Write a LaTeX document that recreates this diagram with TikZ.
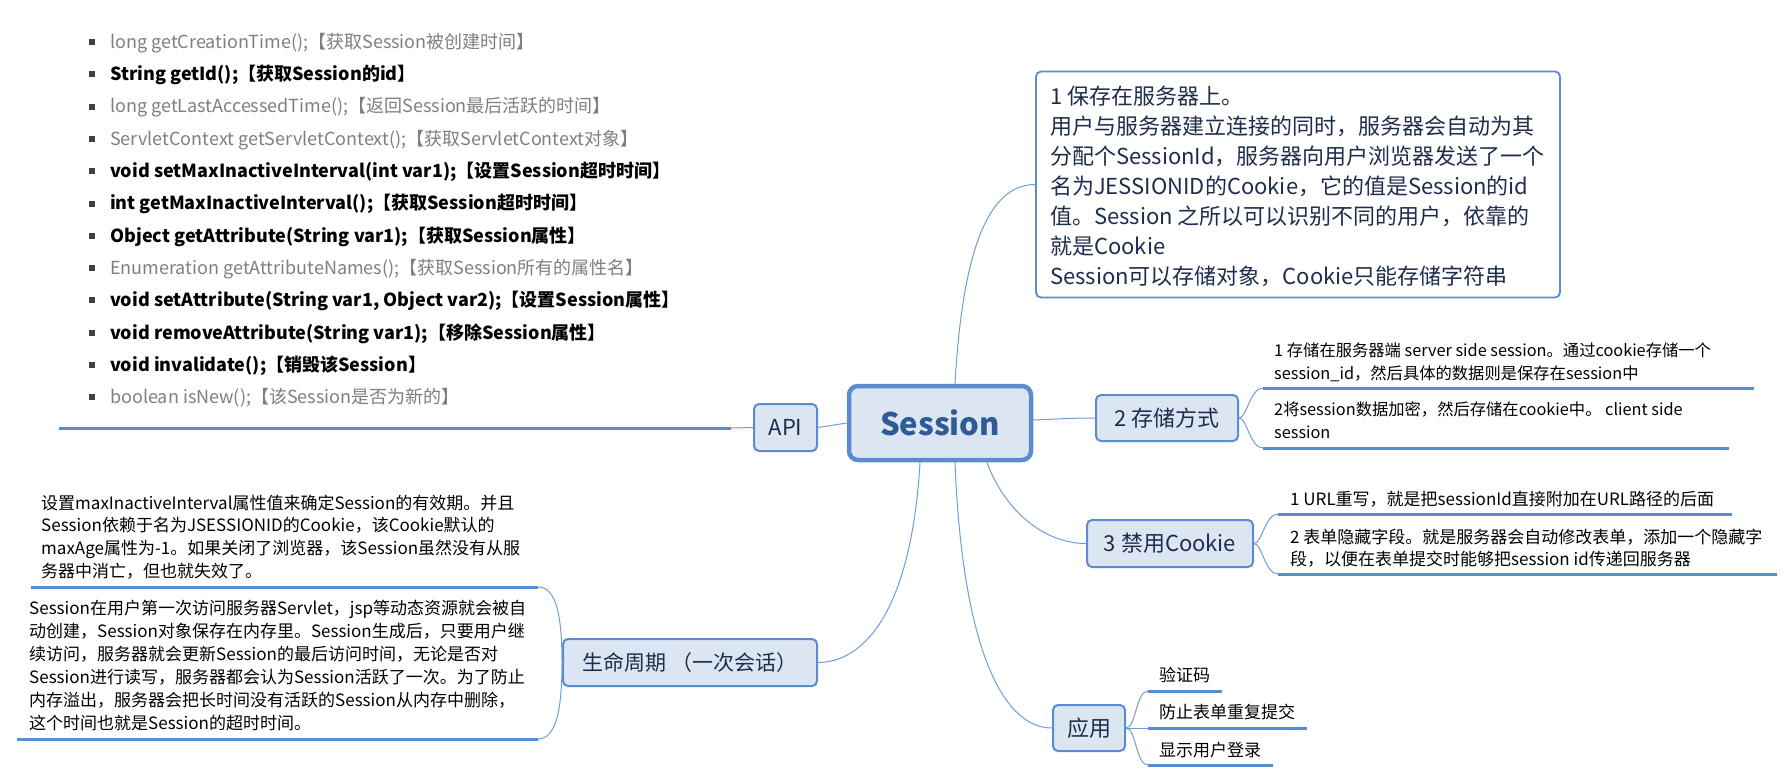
\documentclass[tikz,border=0pt]{standalone}
\usepackage{fontspec}
\setmainfont{Noto Sans CJK SC}
\usepackage{array}
\usetikzlibrary{calc}
\definecolor{bd}{HTML}{5B8BD0}
\definecolor{fillb}{HTML}{DCE6F2}
\definecolor{navy}{HTML}{1F2D4D}
\definecolor{sesscol}{HTML}{2F5A96}
\definecolor{linkcol}{HTML}{6E9EDB}
\definecolor{grayt}{HTML}{7F7F7F}
\newcommand{\fs}[2]{\fontsize{#1}{#2}\selectfont}
\newcommand{\ml}[1]{\begin{tabular}[t]{@{}l@{}}#1\end{tabular}}
\begin{document}
\begin{tikzpicture}[x=1pt,y=-1pt,
  topic/.style={draw=bd, line width=2pt, fill=fillb, rounded corners=5pt, text=navy, inner sep=0pt, font=\fs{22}{26}},
  txt/.style={anchor=base west, inner sep=0pt, text=black},
  apig/.style={txt, text=grayt, font=\fs{18}{20}},
  apib/.style={txt, text=black, font=\fs{18}{20}\bfseries},
  item/.style={txt, font=\fs{17}{23}},
  link/.style={draw=linkcol, line width=1pt},
  uline/.style={draw=bd, line width=3pt},
  bul/.style={fill=black!75}
]
\useasboundingbox[fill=white] (0,0) rectangle (1791,782);

% central node
\node[topic, line width=4.5pt, rounded corners=9pt, text=sesscol, font=\fs{31}{36}\bfseries,
      minimum width=182pt, minimum height=74pt] (sess) at (940,423) {Session};

% main topics
\node[topic, minimum width=63pt, minimum height=47pt] (api) at (785.5,427.5) {API};
\node[topic, minimum width=142pt, minimum height=46pt] (store) at (1167,418) {2 存储方式};
\node[topic, minimum width=166pt, minimum height=47pt] (cook) at (1170,543.5) {3 禁用Cookie};
\node[topic, minimum width=72pt, minimum height=46pt] (app) at (1089,728) {应用};
\node[topic, minimum width=254pt, minimum height=47pt, font=\fs{21}{26}] (life) at (690,662.5) {生命周期 （一次会话）};

% info box (top right)
\node[draw=bd, line width=1.8pt, fill=white, rounded corners=5pt, minimum width=524pt, minimum height=226pt] (info) at (1298,184.5) {};
\node[txt, text=navy, font=\fs{22}{30}] (infot) at (1050,104.7) {\ml{1 保存在服务器上。\\
用户与服务器建立连接的同时，服务器会自动为其\\
分配个SessionId，服务器向用户浏览器发送了一个\\
名为JESSIONID的Cookie，它的值是Session的id\\
值。Session 之所以可以识别不同的用户，依靠的\\
就是Cookie\\
Session可以存储对象，Cookie只能存储字符串}};

% API list
\foreach \k in {0,...,11}{
  \fill[bul] (89,{42+32.3*\k-3}) rectangle (95,{42+32.3*\k+3});
}
\node[apig] (a1) at (110,48.3) {long getCreationTime();【获取Session被创建时间】};
\node[apib] (a2) at (110,80.6) {String getId();【获取Session的id】};
\node[apig] (a3) at (110,112.9) {long getLastAccessedTime();【返回Session最后活跃的时间】};
\node[apig] (a4) at (110,145.2) {ServletContext getServletContext();【获取ServletContext对象】};
\node[apib] (a5) at (110,177.5) {void setMaxInactiveInterval(int var1);【设置Session超时时间】};
\node[apib] (a6) at (110,209.8) {int getMaxInactiveInterval();【获取Session超时时间】};
\node[apib] (a7) at (110,242.1) {Object getAttribute(String var1);【获取Session属性】};
\node[apig] (a8) at (110,274.4) {Enumeration getAttributeNames();【获取Session所有的属性名】};
\node[apib] (a9) at (110,306.7) {void setAttribute(String var1, Object var2);【设置Session属性】};
\node[apib] (a10) at (110,339.0) {void removeAttribute(String var1);【移除Session属性】};
\node[apib] (a11) at (110,371.3) {void invalidate();【销毁该Session】};
\node[apig] (a12) at (110,403.6) {boolean isNew();【该Session是否为新的】};

\coordinate (apiM) at (731,428);
\coordinate (apiL) at (59,428);

% storage items
\node[item, font=\fs{16.3}{23}] (s1) at (1274,356) {\ml{1 存储在服务器端 server side session。通过cookie存储一个\\session\_id，然后具体的数据则是保存在session中}};
\node[item, font=\fs{16.3}{23}] (s2) at (1274,415) {\ml{2将session数据加密，然后存储在cookie中。 client side\\session}};
\coordinate (u21s) at (1263,388); \coordinate (u21e) at (1754,388);
\coordinate (u22s) at (1263,448); \coordinate (u22e) at (1729,448);

% cookie items
\node[item] (c1) at (1290,505) {1 URL重写，就是把sessionId直接附加在URL路径的后面};
\node[item, font=\fs{17}{22}] (c2) at (1290,543) {\ml{2 表单隐藏字段。就是服务器会自动修改表单，添加一个隐藏字\\段，以便在表单提交时能够把session id传递回服务器}};
\coordinate (u31s) at (1278,514); \coordinate (u31e) at (1732,514);
\coordinate (u32s) at (1278,574); \coordinate (u32e) at (1777,574);

% application items
\node[item] (p1) at (1159,681) {验证码};
\node[item] (p2) at (1159,718) {防止表单重复提交};
\node[item] (p3) at (1159,756) {显示用户登录};
\coordinate (u41s) at (1148,691); \coordinate (u41e) at (1222,691);
\coordinate (u42s) at (1148,728); \coordinate (u42e) at (1307,728);
\coordinate (u43s) at (1148,765); \coordinate (u43e) at (1273,765);

% lifecycle paragraphs
\node[item, font=\fs{17}{22.7}] (l1) at (41,509) {\ml{设置maxInactiveInterval属性值来确定Session的有效期。并且\\
Session依赖于名为JSESSIONID的Cookie，该Cookie默认的\\
maxAge属性为-1。如果关闭了浏览器，该Session虽然没有从服\\
务器中消亡，但也就失效了。}};
\node[item, font=\fs{17}{23}] (l2) at (29,614) {\ml{Session在用户第一次访问服务器Servlet，jsp等动态资源就会被自\\
动创建，Session对象保存在内存里。Session生成后，只要用户继\\
续访问，服务器就会更新Session的最后访问时间，无论是否对\\
Session进行读写，服务器都会认为Session活跃了一次。为了防止\\
内存溢出，服务器会把长时间没有活跃的Session从内存中删除，\\
这个时间也就是Session的超时时间。}};
\coordinate (u51e) at (538,587); \coordinate (u51s) at (31,587);
\coordinate (u52e) at (538,739); \coordinate (u52s) at (17,739);

% connectors from central node
\draw[link] (sess.west) -- (api.east);
\draw[link] (api.west) -- (apiM);
\draw[uline] (apiM) -- (apiL);
\draw[link] ([xshift=15pt]sess.north) .. controls (962,260) and (985,184.5) .. (info.west);
\draw[link] ([yshift=3pt]sess.east) .. controls (1060,419) and (1070,418) .. (store.west);
\draw[link] ([xshift=47pt]sess.south) .. controls (1002,505) and (1040,543.5) .. (cook.west);
\draw[link] ([xshift=15pt]sess.south) .. controls (962,640) and (1000,728) .. (app.west);
\draw[link] ([xshift=-20pt]sess.south) .. controls (912,600) and (870,662) .. (life.east);

% branches
\draw[link] (store.east) .. controls (1247,418) and (1250,388) .. (u21s);
\draw[link] (store.east) .. controls (1247,418) and (1250,448) .. (u22s);
\draw[uline] (u21s) -- (u21e);
\draw[uline] (u22s) -- (u22e);

\draw[link] (cook.east) .. controls (1262,543.5) and (1265,514) .. (u31s);
\draw[link] (cook.east) .. controls (1262,543.5) and (1265,574) .. (u32s);
\draw[uline] (u31s) -- (u31e);
\draw[uline] (u32s) -- (u32e);

\draw[link] (app.east) .. controls (1136,728) and (1136,691) .. (u41s);
\draw[link] (app.east) -- (u42s);
\draw[link] (app.east) .. controls (1136,728) and (1136,765) .. (u43s);
\draw[uline] (u41s) -- (u41e);
\draw[uline] (u42s) -- (u42e);
\draw[uline] (u43s) -- (u43e);

\draw[link] (life.west) .. controls (562,615) and (556,587) .. (u51e);
\draw[link] (life.west) .. controls (562,710) and (556,739) .. (u52e);
\draw[uline] (u51e) -- (u51s);
\draw[uline] (u52e) -- (u52s);
\end{tikzpicture}
\end{document}
